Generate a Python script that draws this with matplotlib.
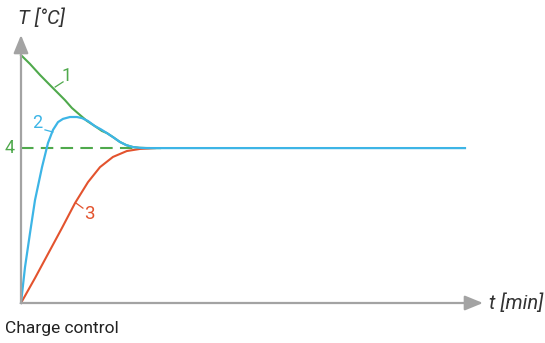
import matplotlib
matplotlib.use("Agg")
import matplotlib.pyplot as plt

# ---- data (t in % of axis length, T in % of axis height) ----
t_curve1 = [0, 1.95, 4.11, 6.28, 7.79, 9.52, 11.0, 12.8, 14.3, 16.0, 17.5, 18.6, 20.0, 21.4, 22.8, 24.2, 25.7, 27.3, 30.1]
T_curve1 = [92.5, 89.2, 85.1, 81.3, 78.7, 75.7, 72.8, 70.1, 67.9, 66.0, 64.2, 63.4, 61.8, 60.1, 58.9, 58.2, 57.9, 57.8, 57.8]

t_curve2 = [0, 0.87, 1.95, 3.03, 4.55, 5.84, 6.93, 8.01, 9.09, 10.6, 12.1, 13.2, 14.5, 16.0, 17.3,
            18.6, 20.0, 21.4, 22.8, 24.2, 25.7, 27.3, 96.1]
T_curve2 = [0, 13.4, 26.1, 38.4, 50.7, 59.7, 64.6, 67.5, 68.7, 69.4, 69.4, 69.0, 67.9, 66.0, 64.8,
            63.4, 61.8, 60.1, 58.9, 58.2, 57.9, 57.8, 57.8]

t_curve3 = [0, 3.03, 5.84, 8.87, 11.7, 14.5, 17.1, 19.9, 22.9, 25.8, 29.0]
T_curve3 = [0, 9.3, 18.3, 28.0, 37.3, 45.1, 50.7, 54.5, 56.7, 57.5, 57.8]

t_level = [0, 28.0]
T_level = [57.8, 57.8]

labels = ["1", "2", "3", "4"]

GREEN = "#4fa94c"
BLUE = "#3db5e6"
RED = "#e3532e"
GRAY = "#a3a3a3"

plt.rcParams['font.family'] = ['Roboto', 'DejaVu Sans']

fig = plt.figure(figsize=(5.45, 3.43), dpi=100)
ax = fig.add_axes([21/545, 40/343, 462/545, 268/343])
ax.set_xlim(0, 100)
ax.set_ylim(0, 100)
ax.axis('off')

# axes arrows
ax.annotate('', xy=(0, 100), xytext=(0, 0), xycoords='data',
            arrowprops=dict(arrowstyle='-|>,head_length=1.1,head_width=0.45', color=GRAY, lw=1.6,
                            shrinkA=0, shrinkB=0), annotation_clip=False)
ax.annotate('', xy=(100, 0), xytext=(0, 0), xycoords='data',
            arrowprops=dict(arrowstyle='-|>,head_length=1.1,head_width=0.45', color=GRAY, lw=1.6,
                            shrinkA=0, shrinkB=0), annotation_clip=False)

ax.plot(t_level, T_level, color=GREEN, lw=1.5, linestyle=(0, (6, 3.5)), clip_on=False)
ax.plot(t_curve1, T_curve1, color=GREEN, lw=1.5, clip_on=False, solid_joinstyle='round')
ax.plot(t_curve3, T_curve3, color=RED, lw=1.5, clip_on=False, solid_joinstyle='round')
ax.plot(t_curve2, T_curve2, color=BLUE, lw=1.6, clip_on=False, solid_joinstyle='round')

# curve labels with leaders
ax.text(9.96, 84.7, labels[0], color=GREEN, fontsize=13, ha='center', va='center')
ax.plot([7.4, 9.1], [80.6, 82.5], color=GREEN, lw=0.9)
ax.text(3.46, 67.2, labels[1], color=BLUE, fontsize=13, ha='center', va='center')
ax.plot([5.19, 6.9], [64.6, 63.8], color=BLUE, lw=0.9)
ax.text(14.9, 33.2, labels[2], color=RED, fontsize=13.5, ha='center', va='center')
ax.plot([11.9, 13.4], [37.3, 35.4], color=RED, lw=0.9)
ax.text(-2.4, 57.8, labels[3], color=GREEN, fontsize=13, ha='center', va='center', clip_on=False)

ax.text(-0.65, 106.3, "T [°C]", fontsize=14.5, style='italic', color='#333333', ha='left', va='center', clip_on=False)
ax.text(101.3, 0, "t [min]", fontsize=14.5, style='italic', color='#333333', ha='left', va='center', clip_on=False)

fig.text(5/545, 1 - 328/343, "Charge control", fontsize=12.5, color='#222222', ha='left', va='center')

fig.savefig("out.png", dpi=100)
